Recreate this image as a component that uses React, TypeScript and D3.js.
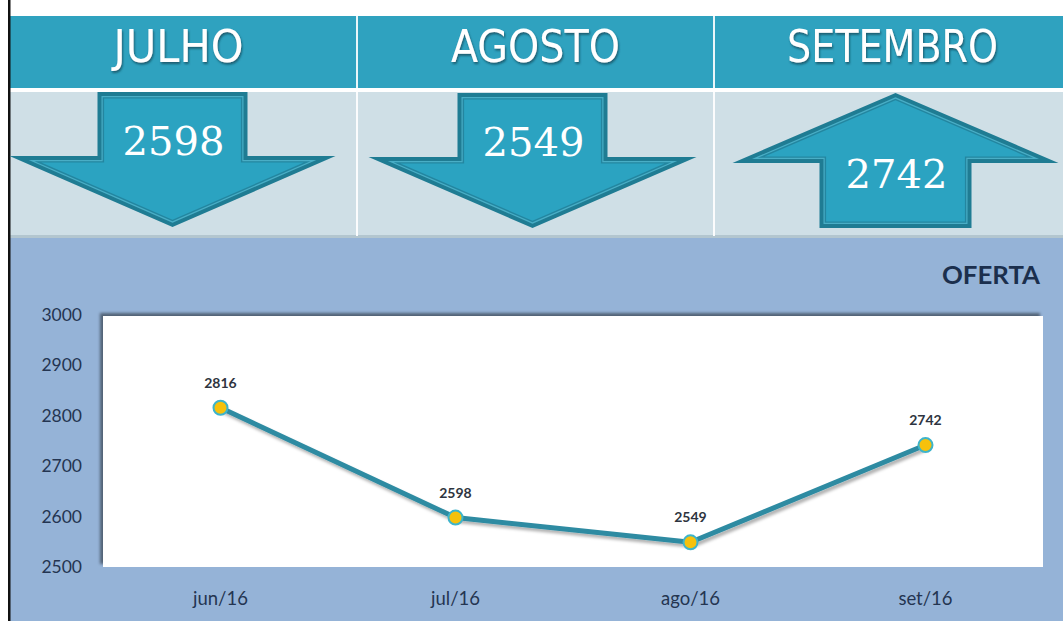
import React from "react";
import * as d3 from "d3";

const months = ["JULHO", "AGOSTO", "SETEMBRO"];
const monthValues = [2598, 2549, 2742];
const monthDirections = ["down", "down", "up"];

const categories = ["jun/16", "jul/16", "ago/16", "set/16"];
const values = [2816, 2598, 2549, 2742];
const yTicks = [2500, 2600, 2700, 2800, 2900, 3000];
const chartTitle = "OFERTA";

const W = 1063;
const H = 621;

function arrowPoints(cx: number, base: number, s: number, L1: number, L2: number, stemHalf: number, wingHalf: number, d: number) {
  const th = Math.atan((L2 - L1) / wingHalf);
  const k = (1 + 1 / Math.cos(th)) / Math.tan(th);
  const y = (v: number) => base + s * v;
  const pts: [number, number][] = [
    [cx - stemHalf + d, y(d)],
    [cx + stemHalf - d, y(d)],
    [cx + stemHalf - d, y(L1 + d)],
    [cx + wingHalf - k * d, y(L1 + d)],
    [cx, y(L2 - d / Math.cos(th))],
    [cx - wingHalf + k * d, y(L1 + d)],
    [cx - stemHalf + d, y(L1 + d)],
  ];
  return pts.map((p) => p.join(",")).join(" ");
}

export default function App() {
  const band = d3.scaleBand<string>().domain(months).range([0, 1071]);
  const x = d3.scalePoint<string>().domain(categories).range([103, 1043]).padding(0.5);
  const y = d3.scaleLinear().domain([2500, 3000]).range([567, 315]);
  const line = d3
    .line<number>()
    .x((_, i) => x(categories[i]) as number)
    .y((v) => y(v));

  const arrowCfg = [
    { dx: -6, base: 92, L1: 64, L2: 135, stemHalf: 75, wingHalf: 163, textY: 155 },
    { dx: -3, base: 93, L1: 64, L2: 135, stemHalf: 75, wingHalf: 164, textY: 156 },
    { dx: 3, base: 228, L1: 65, L2: 135, stemHalf: 76, wingHalf: 163, textY: 188 },
  ];
  const layers = [
    { d: 0, fill: "#1f7c93" },
    { d: 4, fill: "#49aec6" },
    { d: 5.2, fill: "#2386a0" },
    { d: 6.6, fill: "#2ba3c1" },
  ];

  return (
    <svg width={W} height={H} style={{ position: "absolute", left: 0, top: 0 }} fontFamily="Lato, 'Open Sans', sans-serif">
      <defs>
        <filter id="lineShadow" x="-10%" y="-10%" width="120%" height="130%">
          <feDropShadow dx="2" dy="3" stdDeviation="1.6" floodColor="#000" floodOpacity="0.3" />
        </filter>
        <filter id="plotShadow" x="-5%" y="-5%" width="110%" height="110%">
          <feDropShadow dx="-3" dy="-3" stdDeviation="1.5" floodColor="#000" floodOpacity="0.45" />
        </filter>
        <filter id="textShadow" x="-10%" y="-20%" width="120%" height="150%">
          <feDropShadow dx="1" dy="2" stdDeviation="0.8" floodColor="#0b3f4f" floodOpacity="0.7" />
        </filter>
      </defs>
      <rect x={0} y={0} width={W} height={H} fill="#ffffff" />
      {/* header band */}
      <rect x={10} y={16} width={W - 10} height={72} fill="#2fa2bf" />
      {/* light row */}
      <rect x={10} y={92} width={W - 10} height={144} fill="#cfdfe6" />
      <rect x={10} y={235} width={W - 10} height={3} fill="#b3c6cf" />
      {/* chart bg */}
      <rect x={10} y={238} width={W - 10} height={H - 238} fill="#95b3d7" />
      {/* separators */}
      {months.slice(1).map((m) => (
        <rect key={m} x={(band(m) as number) - 1} y={16} width={2} height={220} fill="#ffffff" opacity={0.9} />
      ))}
      {/* left border */}
      <rect x={8} y={0} width={2.5} height={H} fill="#111111" />

      {months.map((m, i) => {
        const cx = (band(m) as number) + band.bandwidth() / 2;
        const widths = [130, 169, 211];
        return (
          <text
            key={m}
            x={cx}
            y={62}
            textAnchor="middle"
            fontSize={44}
            fontFamily="'Liberation Sans Narrow', 'DejaVu Sans Condensed', sans-serif"
            fill="#ffffff"
            textLength={widths[i]}
            lengthAdjust="spacingAndGlyphs"
            filter="url(#textShadow)"
          >
            {m}
          </text>
        );
      })}

      {months.map((m, i) => {
        const c = arrowCfg[i];
        const cx = (band(m) as number) + band.bandwidth() / 2 + c.dx;
        const s = monthDirections[i] === "down" ? 1 : -1;
        return (
          <g key={m}>
            {layers.map((l) => (
              <polygon key={l.d} points={arrowPoints(cx, c.base, s, c.L1, c.L2, c.stemHalf, c.wingHalf, l.d)} fill={l.fill} />
            ))}
            <text
              x={cx + 1}
              y={c.textY}
              textAnchor="middle"
              fontSize={40}
              fontFamily="'DejaVu Serif', 'Liberation Serif', serif"
              fill="#ffffff"
              textLength={102}
              lengthAdjust="spacingAndGlyphs"
            >
              {monthValues[i]}
            </text>
          </g>
        );
      })}

      {/* chart title */}
      <text x={1040} y={284} textAnchor="end" fontSize={25} fontWeight="bold" fill="#1b2f4d" textLength={98} lengthAdjust="spacingAndGlyphs">
        {chartTitle}
      </text>

      {/* plot area */}
      <rect x={103} y={316} width={940} height={251} fill="#ffffff" filter="url(#plotShadow)" />

      {/* y ticks */}
      {yTicks.map((t) => (
        <text key={t} x={82} y={y(t) + 6} textAnchor="end" fontSize={17.5} fill="#243551">
          {t}
        </text>
      ))}
      {/* x ticks */}
      {categories.map((c) => (
        <text key={c} x={x(c)} y={605} textAnchor="middle" fontSize={18.5} fill="#243551">
          {c}
        </text>
      ))}

      {/* line */}
      <path d={line(values) as string} fill="none" stroke="#2e8ba2" strokeWidth={5} strokeLinejoin="round" filter="url(#lineShadow)" />
      {values.map((v, i) => (
        <g key={i}>
          <circle cx={x(categories[i])} cy={y(v)} r={7} fill="#f6c10c" stroke="#3db4cb" strokeWidth={2} />
          <text x={x(categories[i])} y={y(v) - 20} textAnchor="middle" fontSize={14} fontWeight="bold" fill="#2e3440">
            {v}
          </text>
        </g>
      ))}
    </svg>
  );
}
